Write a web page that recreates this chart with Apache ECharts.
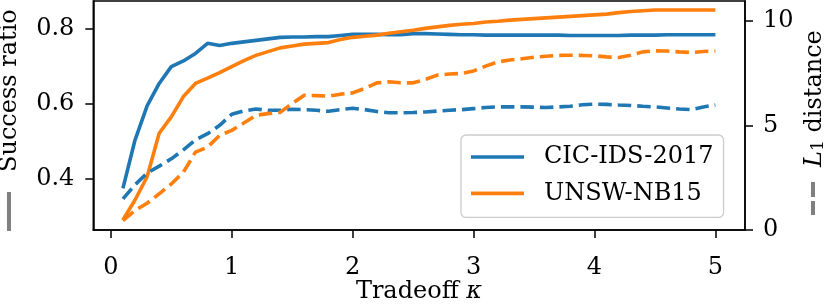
<!DOCTYPE html>
<html>
<head>
<meta charset="utf-8">
<script src="https://cdn.jsdelivr.net/npm/echarts@6/dist/echarts.min.js"></script>
<style>html,body{margin:0;padding:0;background:#fff}#c{width:831px;height:308px}</style>
</head>
<body>
<div id="c"></div>
<script>
var kappa = [0.1,0.2,0.3,0.4,0.5,0.6,0.7,0.8,0.9,1.0,1.1,1.2,1.3,1.4,1.5,1.6,1.7,1.8,1.9,2.0,2.1,2.2,2.3,2.4,2.5,2.6,2.7,2.8,2.9,3.0,3.1,3.2,3.3,3.4,3.5,3.6,3.7,3.8,3.9,4.0,4.1,4.2,4.3,4.4,4.5,4.6,4.7,4.8,4.9,5.0];
var cicSuccess = [0.373,0.502,0.593,0.653,0.698,0.713,0.733,0.760,0.754,0.760,0.764,0.768,0.772,0.776,0.777,0.777,0.778,0.778,0.781,0.784,0.784,0.784,0.783,0.783,0.786,0.786,0.785,0.784,0.783,0.783,0.782,0.782,0.782,0.782,0.782,0.782,0.782,0.781,0.781,0.781,0.781,0.781,0.782,0.782,0.782,0.783,0.783,0.783,0.783,0.783];
var unswSuccess = [0.289,0.342,0.404,0.520,0.564,0.618,0.653,0.667,0.682,0.698,0.714,0.728,0.738,0.748,0.753,0.758,0.760,0.762,0.770,0.776,0.779,0.782,0.787,0.791,0.795,0.800,0.804,0.808,0.811,0.813,0.817,0.819,0.822,0.824,0.826,0.828,0.830,0.832,0.834,0.836,0.838,0.842,0.845,0.847,0.849,0.849,0.849,0.849,0.849,0.849];
var cicL1 = [1.49,2.16,2.72,3.05,3.40,3.83,4.31,4.60,5.00,5.53,5.69,5.78,5.72,5.72,5.77,5.75,5.72,5.67,5.75,5.82,5.75,5.66,5.60,5.60,5.61,5.64,5.68,5.72,5.75,5.80,5.85,5.88,5.88,5.88,5.87,5.85,5.88,5.91,5.98,6.01,6.00,5.97,5.95,5.91,5.88,5.83,5.78,5.75,5.88,5.97];
var unswL1 = [0.45,0.93,1.28,1.73,2.20,2.76,3.72,3.96,4.52,4.76,5.11,5.48,5.56,5.62,6.04,6.44,6.42,6.39,6.49,6.55,6.76,7.03,7.08,7.03,7.03,7.19,7.40,7.45,7.48,7.60,7.83,8.03,8.12,8.18,8.25,8.30,8.34,8.35,8.34,8.32,8.27,8.24,8.35,8.51,8.56,8.55,8.51,8.48,8.53,8.55];
var xTicks = [0,1,2,3,4,5];
var leftTicks = [0.4,0.6,0.8];
var rightTicks = [0,5,10];
var seriesNames = ['CIC-IDS-2017','UNSW-NB15'];

var FONT = "'DejaVu Serif', serif";
var BLUE = '#1f77b4', ORANGE = '#ff7f0e';
function pairs(ys){ return kappa.map(function(x,i){ return [x, ys[i]]; }); }

var chart = echarts.init(document.getElementById('c'), null, {renderer:'canvas'});
var lw = 3.6, dash = [13.5,6];
var tickLabel = {color:'#000', fontFamily:FONT, fontSize:24};
chart.setOption({
  animation:false,
  textStyle:{fontFamily:FONT},
  grid:{left:93.3, right:86, top:1, bottom:78, show:true, borderColor:'#000', borderWidth:1.5, backgroundColor:'transparent'},
  xAxis:{type:'value', min:-0.145, max:5.245,
    axisLine:{show:true, onZero:false, lineStyle:{color:'#000', width:1.5}},
    axisTick:{show:true, length:8, lineStyle:{color:'#000', width:1.5}, customValues:xTicks},
    axisLabel:Object.assign({margin:26, customValues:xTicks, formatter:function(v){return String(v);}}, tickLabel),
    splitLine:{show:false}},
  yAxis:[
    {type:'value', position:'left', min:0.262, max:0.873,
      axisLine:{show:true, onZero:false, lineStyle:{color:'#000', width:1.5}},
      axisTick:{show:true, length:8, lineStyle:{color:'#000', width:1.5}, customValues:leftTicks},
      axisLabel:Object.assign({margin:19, customValues:leftTicks, formatter:function(v){return v.toFixed(1);}}, tickLabel),
      splitLine:{show:false}},
    {type:'value', position:'right', min:0, max:10.94,
      axisLine:{show:true, onZero:false, lineStyle:{color:'#000', width:1.5}},
      axisTick:{show:true, length:8, lineStyle:{color:'#000', width:1.5}, customValues:rightTicks},
      axisLabel:Object.assign({margin:18, customValues:rightTicks, formatter:function(v){return String(v);}}, tickLabel),
      splitLine:{show:false}}
  ],
  legend:{data:seriesNames, orient:'vertical', left:461, top:135, padding:[10,10,12,10],
    itemWidth:53, itemHeight:3.6, icon:'rect', itemGap:12.4,
    textStyle:{fontFamily:FONT, fontSize:24, lineHeight:24, color:'#000', padding:[0,0,0,15]},
    backgroundColor:'rgba(255,255,255,0.8)', borderColor:'#cccccc', borderWidth:1.3, borderRadius:5},
  series:[
    {name:seriesNames[0], type:'line', yAxisIndex:0, data:pairs(cicSuccess), symbol:'none', color:BLUE, lineStyle:{color:BLUE, width:lw}, z:2},
    {name:seriesNames[1], type:'line', yAxisIndex:0, data:pairs(unswSuccess), symbol:'none', color:ORANGE, lineStyle:{color:ORANGE, width:lw}, z:3},
    {name:seriesNames[0]+' L1', type:'line', yAxisIndex:1, data:pairs(cicL1), symbol:'none', color:BLUE, lineStyle:{color:BLUE, width:lw, type:dash}, z:4},
    {name:seriesNames[1]+' L1', type:'line', yAxisIndex:1, data:pairs(unswL1), symbol:'none', color:ORANGE, lineStyle:{color:ORANGE, width:lw, type:dash}, z:5}
  ],
  graphic:[
    {type:'text', x:10, y:172, rotation:Math.PI/2, style:{text:'Success ratio', fontFamily:FONT, fontSize:24, fill:'#000', align:'left', verticalAlign:'middle'}},
    {type:'line', shape:{x1:9, y1:192, x2:9, y2:231}, style:{stroke:'#808080', lineWidth:4}},
    {type:'text', x:815, y:167, rotation:Math.PI/2, style:{text:'{i|L}{s|1}{n| distance}', align:'left', verticalAlign:'middle', fill:'#000',
      rich:{i:{fontFamily:FONT, fontStyle:'italic', fontSize:24, lineHeight:24, verticalAlign:'middle'},
            s:{fontFamily:FONT, fontSize:17, lineHeight:17, padding:[11,0,0,0], verticalAlign:'bottom'},
            n:{fontFamily:FONT, fontSize:24, lineHeight:24, verticalAlign:'middle'}}}},
    {type:'line', shape:{x1:813, y1:182, x2:813, y2:215}, style:{stroke:'#808080', lineWidth:4, lineDash:[15,4]}},
    {type:'text', x:419, y:292, style:{text:'{n|Tradeoff }{i|κ}', align:'center', verticalAlign:'middle', fill:'#000',
      rich:{n:{fontFamily:FONT, fontSize:24}, i:{fontFamily:FONT, fontStyle:'italic', fontSize:24}}}}
  ]
});
</script>
</body>
</html>
